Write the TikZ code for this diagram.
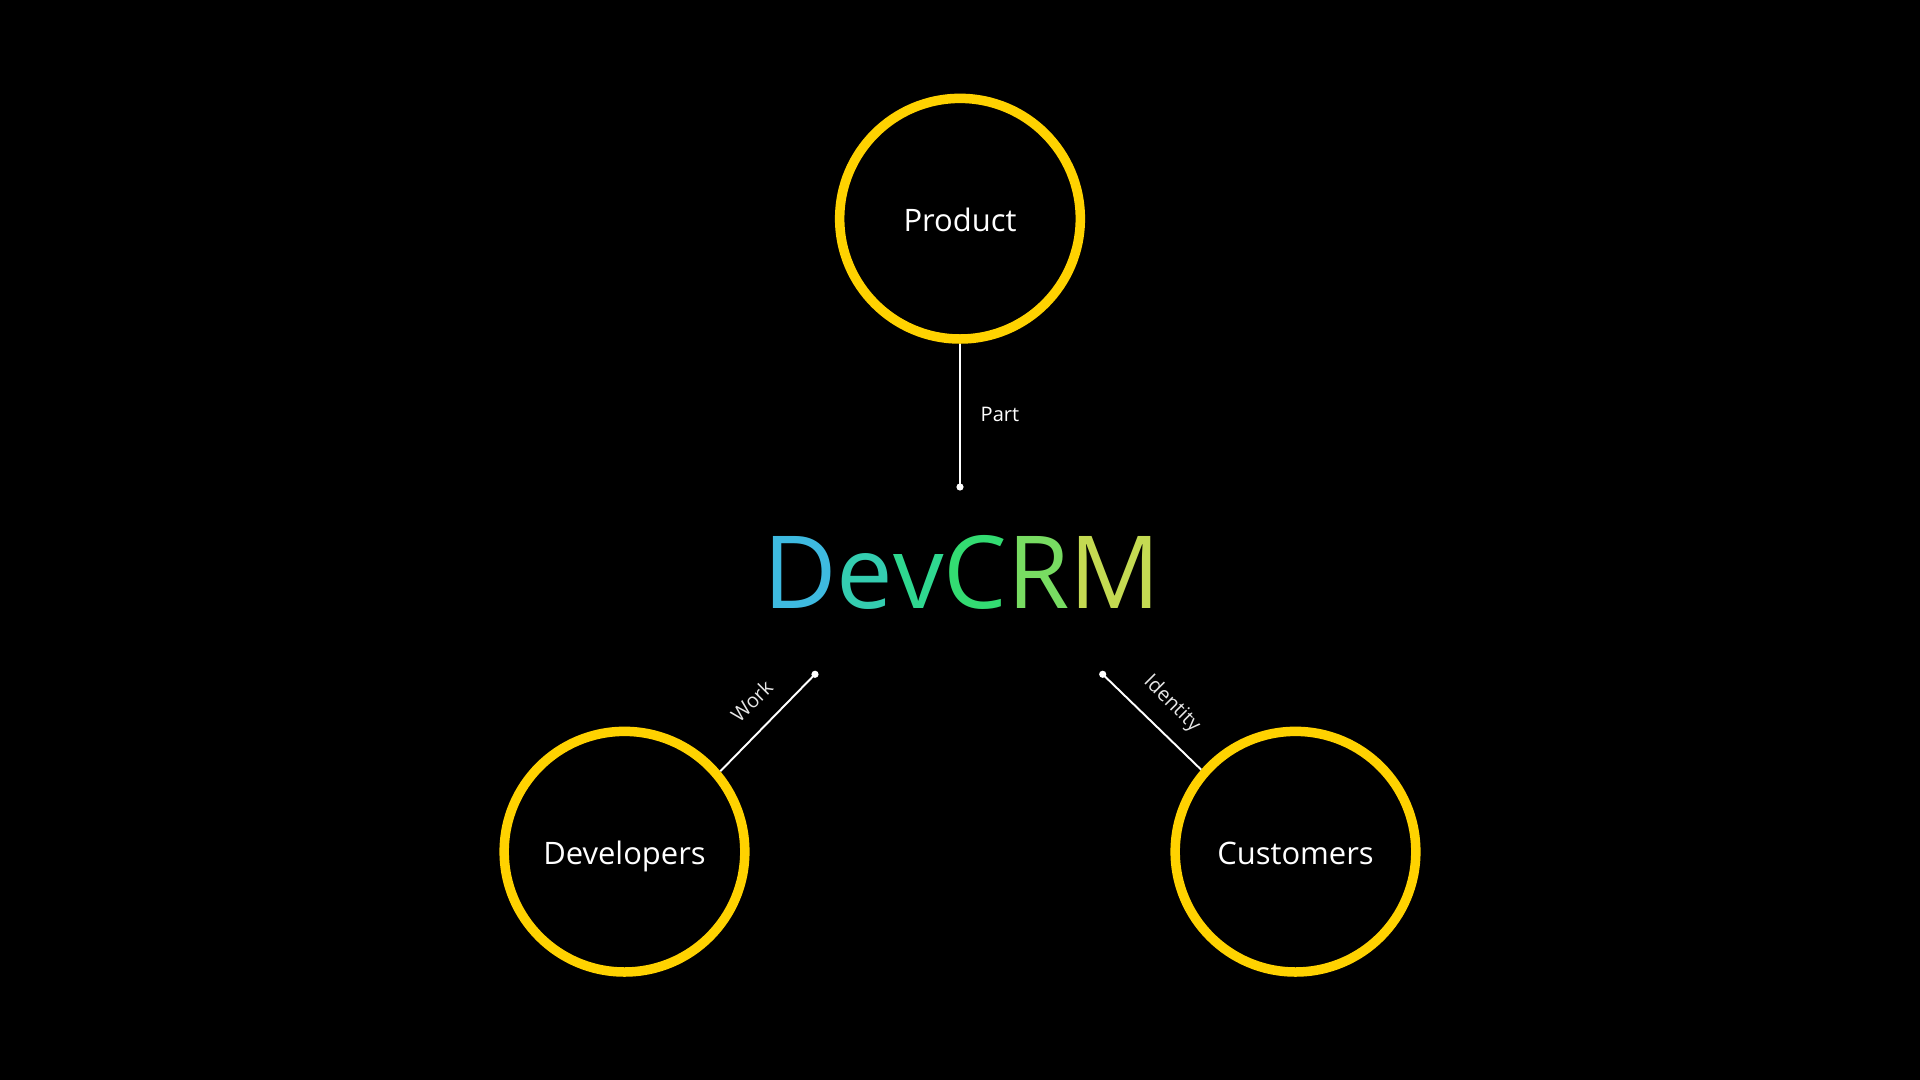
\documentclass[tikz,border=0pt]{standalone}
\usepackage{fontspec}
\setmainfont{Open Sans}
\definecolor{ringyellow}{HTML}{FFD200}
\definecolor{cD}{HTML}{3EBAE0}
\definecolor{cE}{HTML}{34CDB0}
\definecolor{cV}{HTML}{2FD890}
\definecolor{cC}{HTML}{33DC72}
\definecolor{cR}{HTML}{78DC62}
\definecolor{cM}{HTML}{C4DA52}
\definecolor{lblgrey}{HTML}{E6E6E6}
\newcommand\dcTitleFont{\fontsize{28.7pt}{30pt}\selectfont}
\newcommand\dcEntFont{\fontsize{8.8pt}{11pt}\selectfont}
\newcommand\dcLblFont{\fontsize{5.7pt}{7pt}\selectfont}
\begin{document}
\begin{tikzpicture}[x=0.01cm,y=-0.01cm,
  entity/.style={circle, draw=ringyellow, line width=0.095cm, minimum size=2.405cm,
    inner sep=0pt, text=white, font=\dcEntFont, text height=0.714em, text depth=0pt},
  conn/.style={draw=white, line width=0.55pt},
  dotstyle/.style={fill=white},
  lbl/.style={font=\dcLblFont, text=white, inner sep=0pt},
  titlestyle/.style={font=\dcTitleFont, inner sep=0pt}]
\fill[black] (0,0) rectangle (1920,1080);
\useasboundingbox (0,0) rectangle (1920,1080);
% entities
\node[entity] (prod) at (960,218.7) {Product};
\node[entity] (dev) at (624.5,851.7) {Developers};
\node[entity] (cust) at (1295.5,851.7) {Customers};
% title
\node[titlestyle, anchor=base] (devcrm) at (962,608.3)
  {\textcolor{cD}{D}\textcolor{cE}{e}\textcolor{cV}{v}\textcolor{cC}{C}\textcolor{cR}{R}\textcolor{cM}{M}};
% connector ends
\coordinate (pdot) at (960,487);
\coordinate (wdot) at (815,674.3);
\coordinate (idot) at (1102.7,674.3);
% connectors
\draw[conn] (prod) -- (pdot);
\draw[conn] (dev.40.5) -- (wdot);
\draw[conn] (cust.139.5) -- (idot);
\fill[dotstyle] (pdot) circle (3.6);
\fill[dotstyle] (wdot) circle (3.6);
\fill[dotstyle] (idot) circle (3.6);
% labels
\node[lbl, anchor=base west] (lpart) at (980,421.7) {Part};
\node[lbl, text=lblgrey, rotate=45] (lwork) at (751.7,700.8) {Work};
\node[lbl, text=lblgrey, rotate=-45] (lid) at (1171.7,704) {Identity};
\end{tikzpicture}
\end{document}
